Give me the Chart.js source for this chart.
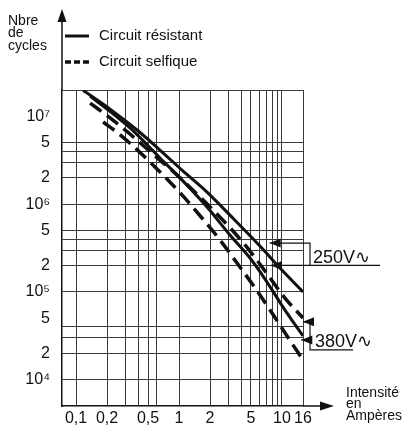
<!DOCTYPE html>
<html>
<head>
<meta charset="utf-8">
<script src="https://cdn.jsdelivr.net/npm/chart.js@4/dist/chart.umd.min.js"></script>
<style>
    html, body { margin: 0; padding: 0; background: #fff; }
    #chart-container { width: 403px; height: 428px; position: relative; }
</style>
</head>
<body>
<div id="chart-container"><canvas id="myChart"></canvas></div>
<script>
// tick positions (Ampères) and their labels, "" = grid line only
const xTicks = [0.1, 0.2, 0.3, 0.4, 0.5, 0.6, 1, 2, 3, 4, 5, 6, 7, 8, 9, 10, 16];
const xTickLabels = ["0,1", "0,2", "", "", "0,5", "", "1", "2", "", "", "5", "", "", "", "", "10", "16"];

// cycles
const yTicks = [1e4, 2e4, 3e4, 4e4, 5e4, 1e5, 2e5, 3e5, 4e5, 5e5, 1e6, 2e6, 3e6, 4e6, 5e6, 1e7, 2e7];
const yTickLabels = ["10⁴", "2", "", "", "5", "10⁵", "2", "", "", "5", "10⁶", "2", "", "", "5", "10⁷", ""];
const yNoGrid = [5e4, 1e7];

// curves: [intensité, nbre de cycles]
const resistant250 = [[0.117, 1.98e7], [0.214, 1.21e7], [0.391, 7.0e6], [0.653, 4.14e6], [1.09, 2.39e6],
    [1.87, 1.37e6], [3.12, 7.5e5], [6.11, 3.33e5], [9.56, 1.87e5], [16, 1.0e5]];
const resistant380 = [[0.137, 1.71e7], [0.334, 7.38e6], [0.653, 3.36e6], [1.09, 1.84e6], [1.87, 9.27e5],
    [3.12, 4.45e5], [4.89, 2.43e5], [6.84, 1.40e5], [10.7, 6.2e4], [16, 3.14e4]];
const selfique250 = [[0.137, 1.42e7], [0.214, 9.6e6], [0.334, 6.3e6], [0.585, 3.54e6], [0.955, 2.15e6],
    [1.43, 1.37e6], [2.14, 8.57e5], [3.34, 4.94e5], [4.89, 2.92e5], [6.84, 1.73e5], [10.7, 8.5e4], [16, 5.04e4]];
const selfique380 = [[0.183, 8.63e6], [0.255, 6.47e6], [0.349, 4.72e6], [0.522, 3.02e6], [0.731, 2.04e6],
    [1.09, 1.24e6], [1.67, 6.95e5], [2.5, 3.9e5], [3.66, 2.13e5], [5.47, 1.11e5], [8.0, 5.74e4], [11.2, 3.14e4], [16, 1.67e4]];

// where the voltage arrows point: [intensité, cycles]
const arrows250 = [[7.6, 3.6e5], [7.8, 2.0e5]];
const arrows380 = [[16, 4.56e4], [15.4, 2.83e4]];

const FONT = '"Liberation Sans", Arial, sans-serif';

const toXY = (arr) => arr.map((p) => ({ x: p[0], y: p[1] }));

const makeSet = (label, arr, dashed, inLegend) => ({
    label: label,
    data: toXY(arr),
    borderColor: "#111",
    borderWidth: dashed ? 3.5 : 3,
    borderDash: dashed ? [14, 7] : [],
    pointRadius: 0,
    fill: false,
    cubicInterpolationMode: "monotone",
    inLegend: inLegend,
});

const arrowHead = (ctx, x, y) => {
    ctx.beginPath();
    ctx.moveTo(x, y);
    ctx.lineTo(x + 11, y - 4.5);
    ctx.lineTo(x + 11, y + 4.5);
    ctx.closePath();
    ctx.fill();
};

const decorations = {
    id: "decorations",
    afterDraw(chart) {
        const ctx = chart.ctx;
        const area = chart.chartArea;
        const xs = chart.scales.x;
        const ys = chart.scales.y;
        ctx.save();
        ctx.strokeStyle = "#111";
        ctx.fillStyle = "#111";
        ctx.lineWidth = 1.5;

        // axis arrows
        ctx.beginPath();
        ctx.moveTo(area.left, area.top);
        ctx.lineTo(area.left, 20);
        ctx.moveTo(area.right, area.bottom);
        ctx.lineTo(area.right + 20, area.bottom);
        ctx.stroke();
        ctx.beginPath();
        ctx.moveTo(area.left, 9);
        ctx.lineTo(area.left - 4.5, 22);
        ctx.lineTo(area.left + 4.5, 22);
        ctx.closePath();
        ctx.fill();
        ctx.beginPath();
        ctx.moveTo(area.right + 31, area.bottom);
        ctx.lineTo(area.right + 17, area.bottom - 4.5);
        ctx.lineTo(area.right + 17, area.bottom + 4.5);
        ctx.closePath();
        ctx.fill();

        // axis titles
        ctx.font = "14px " + FONT;
        ctx.textBaseline = "middle";
        ctx.textAlign = "left";
        ["Nbre", "de", "cycles"].forEach((t, i) => ctx.fillText(t, 8, 21 + i * 12.5));
        ["Intensité", "en", "Ampères"].forEach((t, i) => ctx.fillText(t, area.right + 43, 393 + i * 11.5));

        // legend
        let ly = 36;
        chart.data.datasets.forEach((ds) => {
            if (!ds.inLegend) return;
            ctx.beginPath();
            ctx.lineWidth = ds.borderWidth;
            ctx.setLineDash(ds.borderDash.length ? [6, 3] : []);
            ctx.moveTo(area.left + 3, ly);
            ctx.lineTo(area.left + 27, ly);
            ctx.stroke();
            ctx.setLineDash([]);
            ctx.font = "15px " + FONT;
            ctx.fillText(ds.label, area.left + 37, ly);
            ly += 26;
        });

        // voltage brackets
        ctx.lineWidth = 1.2;
        const bx = area.right + 7;
        const a = arrows250.map((p) => [xs.getPixelForValue(p[0]), ys.getPixelForValue(p[1])]);
        ctx.beginPath();
        ctx.moveTo(a[0][0], a[0][1]);
        ctx.lineTo(bx, a[0][1]);
        ctx.lineTo(bx, a[1][1]);
        ctx.moveTo(a[1][0], a[1][1]);
        ctx.lineTo(area.right + 77, a[1][1]);
        ctx.stroke();
        a.forEach((p) => arrowHead(ctx, p[0], p[1]));

        const b = arrows380.map((p) => [xs.getPixelForValue(p[0]), ys.getPixelForValue(p[1])]);
        ctx.beginPath();
        ctx.moveTo(b[0][0], b[0][1]);
        ctx.lineTo(bx, b[0][1]);
        ctx.lineTo(bx, b[1][1] + 10);
        ctx.lineTo(area.right + 50, b[1][1] + 10);
        ctx.moveTo(b[1][0], b[1][1]);
        ctx.lineTo(bx, b[1][1]);
        ctx.stroke();
        b.forEach((p) => arrowHead(ctx, p[0], p[1]));

        ctx.font = "18px " + FONT;
        ctx.textBaseline = "alphabetic";
        ctx.fillText("250V∿", bx + 3, a[1][1] - 2);
        ctx.fillText("380V∿", bx + 5, b[1][1] + 7);
        ctx.restore();
    },
};

const gridColor = (list) => (c) => (c.tick && list.includes(c.tick.value) ? "rgba(0,0,0,0)" : "#3a3a3a");

const config = {
    type: "line",
    data: {
        datasets: [
            makeSet("Circuit résistant", resistant250, false, true),
            makeSet("Circuit résistant 380V", resistant380, false, false),
            makeSet("Circuit selfique", selfique250, true, true),
            makeSet("Circuit selfique 380V", selfique380, true, false),
        ],
    },
    options: {
        responsive: true,
        maintainAspectRatio: false,
        animation: false,
        layout: { padding: { top: 90, right: 100, left: 0, bottom: 0 } },
        plugins: { legend: { display: false }, tooltip: { enabled: false } },
        scales: {
            x: {
                type: "logarithmic",
                min: 0.073,
                max: 16,
                afterBuildTicks: (s) => { s.ticks = xTicks.map((v) => ({ value: v })); },
                afterFit: (s) => { s.height = 22; },
                ticks: {
                    autoSkip: false,
                    maxRotation: 0,
                    padding: 3,
                    color: "#111",
                    font: { family: FONT, size: 16 },
                    callback: (v) => xTickLabels[xTicks.indexOf(v)] || "",
                },
                grid: { drawTicks: false, color: "#3a3a3a", lineWidth: 1 },
                border: { display: true, color: "#111", width: 1.5 },
            },
            y: {
                type: "logarithmic",
                min: 5000,
                max: 2e7,
                afterBuildTicks: (s) => { s.ticks = yTicks.map((v) => ({ value: v })); },
                afterFit: (s) => { s.width = 62; },
                ticks: {
                    autoSkip: false,
                    padding: 12,
                    color: "#111",
                    font: { family: FONT, size: 16 },
                    callback: (v) => yTickLabels[yTicks.indexOf(v)] || "",
                },
                grid: { drawTicks: false, color: gridColor(yNoGrid), lineWidth: 1 },
                border: { display: true, color: "#111", width: 1.5 },
            },
        },
    },
    plugins: [decorations],
};

new Chart(document.getElementById("myChart"), config);
</script>
</body>
</html>
